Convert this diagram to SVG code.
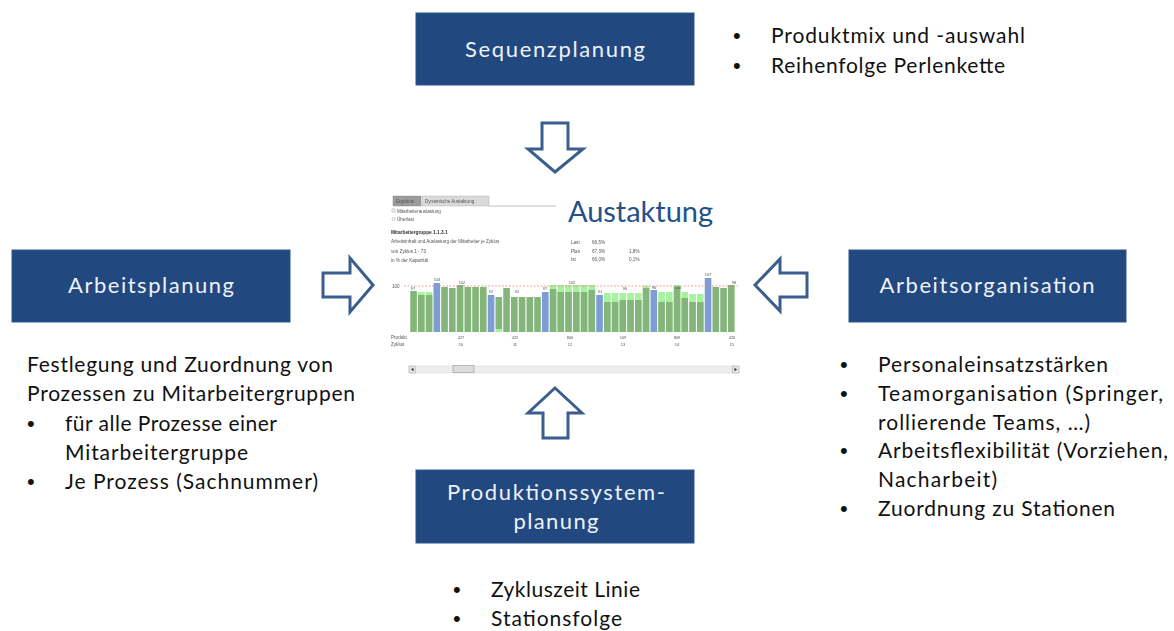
<svg xmlns="http://www.w3.org/2000/svg" width="1174" height="631" viewBox="0 0 1174 631">
  <style>
    .box { fill: #21487f; stroke: #2f5790; stroke-width: 1; }
    .boxlabel { font-family: Lato, "Liberation Sans", sans-serif; font-size: 22px; fill: #eef2f8; text-anchor: middle; }
    .body { font-family: Lato, "Liberation Sans", sans-serif; font-size: 21px; fill: #111111; }
    .dot { font-family: "Liberation Sans", Arial, sans-serif; font-size: 22px; fill: #111111; }
    .arrow { fill: #ffffff; stroke: #3a5f8e; stroke-width: 3; stroke-linejoin: miter; }
    .tiny { font-family: "Liberation Sans", Arial, sans-serif; font-size: 4.6px; fill: #555555; }
    .tinyb { font-family: "Liberation Sans", Arial, sans-serif; font-size: 4.8px; fill: #333333; font-weight: bold; }
    .num { font-family: "Liberation Sans", Arial, sans-serif; font-size: 4px; fill: #555555; text-anchor: middle; }
    .g { fill: #84b67b; }
    .lg { fill: #a7f29f; }
    .b { fill: #7e9dd4; }
  </style>
  <defs>
    <filter id="soft" x="-5%" y="-5%" width="110%" height="110%">
      <feGaussianBlur stdDeviation="0.35"/>
    </filter>
  </defs>

  <rect width="1174" height="631" fill="#ffffff"/>

  <!-- planning boxes -->
  <g id="sequenzplanung">
    <rect class="box" x="416" y="13" width="278" height="72"/>
    <text class="boxlabel" x="555" y="57" textLength="180" lengthAdjust="spacing">Sequenzplanung</text>
  </g>
  <g id="arbeitsplanung">
    <rect class="box" x="12" y="250" width="278" height="72"/>
    <text class="boxlabel" x="151" y="293" textLength="166" lengthAdjust="spacing">Arbeitsplanung</text>
  </g>
  <g id="arbeitsorganisation">
    <rect class="box" x="849" y="250" width="277" height="72"/>
    <text class="boxlabel" x="987" y="293" textLength="215" lengthAdjust="spacing">Arbeitsorganisation</text>
  </g>
  <g id="produktionssystemplanung">
    <rect class="box" x="416" y="470" width="278" height="73"/>
    <text class="boxlabel" x="556" y="500" textLength="218" lengthAdjust="spacing">Produktionssystem-</text>
    <text class="boxlabel" x="556" y="529" textLength="85" lengthAdjust="spacing">planung</text>
  </g>

  <!-- bullet lists -->
  <g id="notes-sequenz" class="body">
    <text class="dot" x="733" y="43">•</text>
    <text x="771" y="43" textLength="254" lengthAdjust="spacing">Produktmix und -auswahl</text>
    <text class="dot" x="733" y="73">•</text>
    <text x="771" y="73" textLength="234" lengthAdjust="spacing">Reihenfolge Perlenkette</text>
  </g>
  <g id="notes-arbeitsplanung" class="body">
    <text x="27" y="372" textLength="306" lengthAdjust="spacing">Festlegung und Zuordnung von</text>
    <text x="27" y="401" textLength="328" lengthAdjust="spacing">Prozessen zu Mitarbeitergruppen</text>
    <text class="dot" x="27" y="431">•</text>
    <text x="65" y="431" textLength="212" lengthAdjust="spacing">für alle Prozesse einer</text>
    <text x="65" y="460" textLength="183" lengthAdjust="spacing">Mitarbeitergruppe</text>
    <text class="dot" x="27" y="489">•</text>
    <text x="65" y="489" textLength="253" lengthAdjust="spacing">Je Prozess (Sachnummer)</text>
  </g>
  <g id="notes-organisation" class="body">
    <text class="dot" x="840" y="372">•</text>
    <text x="878" y="372" textLength="230" lengthAdjust="spacing">Personaleinsatzstärken</text>
    <text class="dot" x="840" y="401">•</text>
    <text x="878" y="401" textLength="285" lengthAdjust="spacing">Teamorganisation (Springer,</text>
    <text x="878" y="430" textLength="212" lengthAdjust="spacing">rollierende Teams, …)</text>
    <text class="dot" x="840" y="458">•</text>
    <text x="878" y="458" textLength="290" lengthAdjust="spacing">Arbeitsflexibilität (Vorziehen,</text>
    <text x="878" y="487" textLength="119" lengthAdjust="spacing">Nacharbeit)</text>
    <text class="dot" x="840" y="516">•</text>
    <text x="878" y="516" textLength="237" lengthAdjust="spacing">Zuordnung zu Stationen</text>
  </g>
  <g id="notes-produktion" class="body">
    <text class="dot" x="453" y="597">•</text>
    <text x="491" y="597" textLength="149" lengthAdjust="spacing">Zykluszeit Linie</text>
    <text class="dot" x="453" y="626">•</text>
    <text x="491" y="626" textLength="131" lengthAdjust="spacing">Stationsfolge</text>
  </g>

  <!-- central node: balancing screen -->
  <g id="austaktung">
    <text x="568" y="222" font-family="Lato, 'Liberation Sans', sans-serif" font-size="29" fill="#24508c" textLength="145" lengthAdjust="spacing">Austaktung</text>

    <g filter="url(#soft)">
      <!-- tabs -->
      <rect x="393" y="196" width="28" height="10" fill="#9c9c9c" stroke="#888" stroke-width="0.4"/>
      <text class="tiny" x="396" y="202.5" fill="#666">Ergebnis</text>
      <rect x="422" y="196" width="67" height="10" fill="#dadada" stroke="#aaa" stroke-width="0.4"/>
      <text class="tiny" x="425" y="202.5">Dynamische Austaktung</text>
      <line x1="489" y1="206" x2="556" y2="206" stroke="#999" stroke-width="0.6"/>

      <!-- options -->
      <rect x="392" y="209" width="3" height="3" fill="#fff" stroke="#777" stroke-width="0.4"/>
      <text class="tiny" x="397" y="212.5">Mitarbeiterauslastung</text>
      <circle cx="393.5" cy="219" r="1.5" fill="#fff" stroke="#777" stroke-width="0.4"/>
      <text class="tiny" x="397" y="221">Überlast</text>

      <!-- header block -->
      <text class="tinyb" x="391" y="234">Mitarbeitergruppe 1.1.3.1</text>
      <text class="tiny" x="391" y="243">Arbeitsinhalt und Auslastung der Mitarbeiter je Zyklus</text>
      <text class="tiny" x="391" y="252.5">von Zyklus 1 - 73</text>
      <text class="tiny" x="391" y="261.5">in % der Kapazität</text>
      <text class="tiny" x="571" y="243.5">Last</text>
      <text class="tiny" x="592" y="243.5">66,5%</text>
      <text class="tiny" x="571" y="252.5">Plan</text>
      <text class="tiny" x="592" y="252.5">67,3%</text>
      <text class="tiny" x="629" y="252.5">1,8%</text>
      <text class="tiny" x="571" y="261">Ist</text>
      <text class="tiny" x="592" y="261">66,0%</text>
      <text class="tiny" x="629" y="261">0,1%</text>

      <!-- bars, light green = plan share above actual -->
      <g id="bars">
        <rect class="g" x="410.25" y="291" width="6.6" height="41"/>
        <rect class="lg" x="418" y="292" width="6.6" height="40"/><rect class="g" x="418" y="295" width="6.6" height="37"/>
        <rect class="lg" x="425.75" y="292" width="6.6" height="40"/><rect class="g" x="425.75" y="295" width="6.6" height="37"/>
        <rect class="b" x="433.5" y="283" width="6.6" height="49"/>
        <rect class="g" x="441.25" y="287" width="6.6" height="45"/>
        <rect class="g" x="449" y="288" width="6.6" height="44"/>
        <rect class="g" x="456.75" y="285" width="6.6" height="47"/>
        <rect class="g" x="464.5" y="287" width="6.6" height="45"/>
        <rect class="g" x="472.25" y="287" width="6.6" height="45"/>
        <rect class="g" x="480" y="287" width="6.6" height="45"/>
        <rect class="b" x="487.75" y="295" width="6.6" height="37"/>
        <rect class="g" x="495.5" y="297" width="6.6" height="32"/><rect class="lg" x="495.5" y="329" width="6.6" height="3"/>
        <rect class="g" x="503.25" y="288" width="6.6" height="44"/>
        <rect class="g" x="511" y="297" width="6.6" height="35"/>
        <rect class="g" x="518.75" y="297" width="6.6" height="35"/>
        <rect class="g" x="526.5" y="297" width="6.6" height="35"/>
        <rect class="g" x="534.25" y="297" width="6.6" height="35"/>
        <rect class="b" x="542" y="292" width="6.6" height="40"/>
        <rect class="lg" x="549.75" y="285" width="6.6" height="47"/><rect class="g" x="549.75" y="289" width="6.6" height="43"/>
        <rect class="lg" x="557.5" y="285" width="6.6" height="47"/><rect class="g" x="557.5" y="292" width="6.6" height="40"/>
        <rect class="lg" x="565.25" y="285" width="6.6" height="47"/><rect class="g" x="565.25" y="292" width="6.6" height="40"/>
        <rect class="lg" x="573" y="285" width="6.6" height="47"/><rect class="g" x="573" y="292" width="6.6" height="40"/>
        <rect class="lg" x="580.75" y="285" width="6.6" height="47"/><rect class="g" x="580.75" y="292" width="6.6" height="40"/>
        <rect class="lg" x="588.5" y="285" width="6.6" height="47"/><rect class="g" x="588.5" y="290" width="6.6" height="42"/>
        <rect class="b" x="596.25" y="295" width="6.6" height="37"/>
        <rect class="lg" x="604" y="293" width="6.6" height="39"/><rect class="g" x="604" y="302" width="6.6" height="30"/>
        <rect class="lg" x="611.75" y="293" width="6.6" height="39"/><rect class="g" x="611.75" y="302" width="6.6" height="30"/>
        <rect class="lg" x="619.5" y="293" width="6.6" height="39"/><rect class="g" x="619.5" y="300" width="6.6" height="32"/>
        <rect class="lg" x="627.25" y="293" width="6.6" height="39"/><rect class="g" x="627.25" y="300" width="6.6" height="32"/>
        <rect class="lg" x="635" y="293" width="6.6" height="39"/><rect class="g" x="635" y="300" width="6.6" height="32"/>
        <rect class="lg" x="642.75" y="286" width="6.6" height="46"/><rect class="g" x="642.75" y="288" width="6.6" height="44"/>
        <rect class="b" x="650.5" y="290" width="6.6" height="42"/>
        <rect class="lg" x="658.25" y="292" width="6.6" height="40"/><rect class="g" x="658.25" y="302" width="6.6" height="30"/>
        <rect class="lg" x="666" y="292" width="6.6" height="40"/><rect class="g" x="666" y="302" width="6.6" height="30"/>
        <rect class="lg" x="673.75" y="285" width="6.6" height="47"/><rect class="g" x="673.75" y="287" width="6.6" height="45"/>
        <rect class="lg" x="681.5" y="292" width="6.6" height="40"/><rect class="g" x="681.5" y="298" width="6.6" height="34"/>
        <rect class="lg" x="689.25" y="294" width="6.6" height="38"/><rect class="g" x="689.25" y="302" width="6.6" height="30"/>
        <rect class="lg" x="697" y="294" width="6.6" height="38"/><rect class="g" x="697" y="302" width="6.6" height="30"/>
        <rect class="b" x="704.75" y="278" width="6.6" height="54"/>
        <rect class="g" x="712.5" y="287" width="6.6" height="45"/>
        <rect class="g" x="720.25" y="288" width="6.6" height="44"/>
        <rect class="g" x="728" y="285" width="6.6" height="47"/>
      </g>

      <!-- capacity line -->
      <line x1="404" y1="286" x2="738" y2="286" stroke="#e07a7a" stroke-width="0.7" stroke-dasharray="2 1.5"/>
      <text class="tiny" x="392" y="287.5">100</text>

      <!-- values above bars -->
      <text class="num" x="413" y="289.5">97</text>
      <text class="num" x="437" y="281">103</text>
      <text class="num" x="462" y="283.5">102</text>
      <text class="num" x="491" y="293">92</text>
      <text class="num" x="517" y="293">92</text>
      <text class="num" x="545" y="290">97</text>
      <text class="num" x="572" y="283.5">102</text>
      <text class="num" x="600" y="293">91</text>
      <text class="num" x="625" y="290">96</text>
      <text class="num" x="654" y="288.5">96</text>
      <text class="num" x="678" y="289">100</text>
      <text class="num" x="708" y="276">107</text>
      <text class="num" x="734" y="284">98</text>

      <!-- axis labels -->
      <text class="tiny" x="391" y="339">Produkt</text>
      <text class="tiny" x="391" y="346">Zyklus</text>
      <g class="num" font-size="4.4">
        <text x="461" y="339">427</text><text x="515" y="339">422</text><text x="570" y="339">800</text>
        <text x="623" y="339">109</text><text x="677" y="339">809</text><text x="732" y="339">426</text>
        <text x="461" y="346">10</text><text x="515" y="346">11</text><text x="570" y="346">12</text>
        <text x="623" y="346">13</text><text x="677" y="346">14</text><text x="732" y="346">15</text>
      </g>

      <!-- scroll bar -->
      <rect x="409" y="366" width="330" height="7" fill="#ededed" stroke="#d2d2d2" stroke-width="0.5"/>
      <rect x="409" y="366" width="6.5" height="7" fill="#e4e4e4" stroke="#999" stroke-width="0.4"/>
      <path d="M413.5 367.8 L411 369.5 L413.5 371.2 Z" fill="#333"/>
      <rect x="732.5" y="366" width="6.5" height="7" fill="#e4e4e4" stroke="#999" stroke-width="0.4"/>
      <path d="M734.5 367.8 L737 369.5 L734.5 371.2 Z" fill="#333"/>
      <rect x="453" y="365.5" width="21" height="7" fill="#dcdcdc" stroke="#8a8a8a" stroke-width="0.5"/>
    </g>
  </g>

  <!-- block arrows feeding the central node -->
  <g id="connectors">
    <polygon class="arrow" points="542,123 568,123 568,149 583,149 555,172 528,149 542,149"/>
    <polygon class="arrow" points="323,273 350,273 350,258 373,285 350,312 350,297 323,297"/>
    <polygon class="arrow" points="807,273 780,273 780,259 755,285 780,311 780,297 807,297"/>
    <polygon class="arrow" points="555,388 582,413 568,413 568,438 543,438 543,413 528,413"/>
  </g>
</svg>
